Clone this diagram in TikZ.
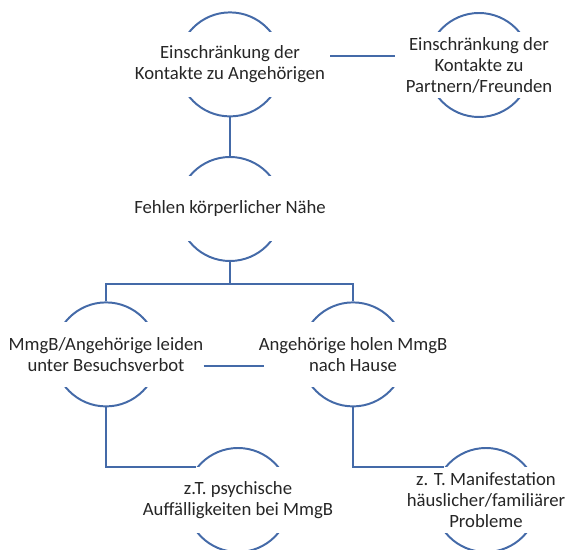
\documentclass[tikz,border=0pt]{standalone}
\usepackage{fontspec}
\setmainfont{Carlito}
\definecolor{linkblue}{RGB}{68,106,168}
\definecolor{textgray}{RGB}{38,38,38}

\begin{document}
\begin{tikzpicture}[
    ring/.style={circle,draw=linkblue,line width=1.4pt,minimum size=2.6cm,inner sep=0},
    textbox/.style={fill=white,text=textgray,align=center,inner xsep=0,inner ysep=.12cm,
        minimum height=1.625cm,font=\fontsize{13.3}{14.9}\selectfont},
    link/.style={draw=linkblue,line width=1.4pt}]
\useasboundingbox (0,0) rectangle (14.2,-13.75);
\clip (0,0) rectangle (14.2,-13.75);

\path (5.75,-1.61)
    node (k1) [ring] {} node (n1) [textbox] {Einschränkung der\\Kontakte zu Angehörigen}
    (11.975,-1.625)
    node (k2) [ring] {} node (n2) [textbox] {Einschränkung der\\Kontakte zu\\Partnern/Freunden}
    (5.75,-5.225)
    node (k3) [ring] {} node (n3) [textbox] {Fehlen körperlicher Nähe}
    (2.65,-8.86)
    node (k4) [ring] {} node (n4) [textbox] {MmgB/Angehörige leiden\\unter Besuchsverbot}
    (8.825,-8.86)
    node (k5) [ring] {} node (n5) [textbox] {Angehörige holen MmgB\\nach Hause}
    (5.95,-12.5)
    node (k6) [ring] {} node (n6) [textbox] {z.T. psychische\\Auffälligkeiten bei MmgB}
    (12.15,-12.5)
    node (k7) [ring] {} node (n7) [textbox] {z. T. Manifestation\\häuslicher/familiärer\\Probleme};

\path (n1.east) +(.12,.2) coordinate (n1o);
\draw[link] (n1o) -- ([xshift=-.25cm]n1o -| n2.west);
\draw[link] (k1.south) -- (k3.north);

\path (k3.south) +(0,-.55) coordinate (fork);
\draw[link] (k3.south) -- (fork);
\draw[link] (k4.north) |- (fork) -| (k5.north);

\path (n4.east) +(0,-.29) coordinate (n4o);
\draw[link] (n4o) -- ([xshift=.15cm]n4o -| n5.west);

\draw[link] (k4.south) |- (k6.142);
\draw[link] (k5.south) |- (k7.142);

\end{tikzpicture}
\end{document}
